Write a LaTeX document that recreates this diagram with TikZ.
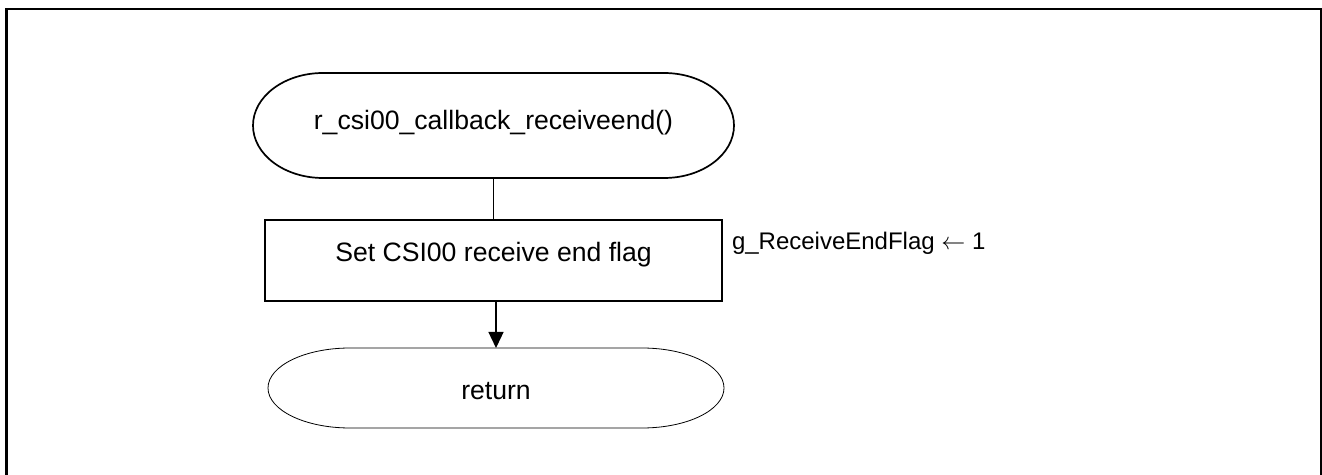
\documentclass[tikz,border=0pt]{standalone}
\usepackage{fontspec}
\setmainfont{Liberation Sans}
\usetikzlibrary{arrows.meta}

\begin{document}
\begin{tikzpicture}[x=0.5pt, y=-0.5pt,
  every node/.style={inner sep=0pt, outer sep=0pt, font=\fontsize{13.3pt}{16pt}\selectfont},
  terminal/.style={rectangle, align=center},
  process/.style={rectangle, draw, line width=0.65pt, align=center},
  conn/.style={line width=0.65pt}]
  \useasboundingbox (0,0) rectangle (1322,475);
  \draw[line width=1.25pt] (6.7,480) -- (6.7,9) -- (1321,9) -- (1321,480);
  \node[terminal, minimum width=240.5pt, minimum height=52.5pt, text height=9.5pt, text depth=5.7pt] (start) at (493.5,125.5) {r\_csi00\_callback\_receiveend()};
  \node[process, minimum width=228.5pt, minimum height=40.5pt, text height=9.5pt, text depth=8.3pt] (task) at (493.5,260.5) {Set CSI00 receive end flag};
  \node[terminal, minimum width=228pt, minimum height=40pt, text height=11.3pt, text depth=0pt] (done) at (496,388) {return};
  \node[anchor=base west, font=\fontsize{12pt}{14pt}\selectfont] (flag) at (732,250) {g\_ReceiveEndFlag $\leftarrow$ 1};
  % terminal outlines
  \draw[line width=0.85pt] ([xshift=35pt]start.north west) -- ([xshift=-35pt]start.north east)
    arc[start angle=90, end angle=-90, x radius=35pt, y radius=26.25pt] -- ([xshift=35pt]start.south west)
    arc[start angle=270, end angle=90, x radius=35pt, y radius=26.25pt] -- cycle;
  \draw[line width=0.4pt] ([xshift=41pt]done.north west) -- ([xshift=-41pt]done.north east)
    arc[start angle=90, end angle=-90, x radius=41pt, y radius=20pt] -- ([xshift=41pt]done.south west)
    arc[start angle=270, end angle=90, x radius=41pt, y radius=20pt] -- cycle;
  \draw[conn] (start.south) -- (task.north);
  \draw[conn, -{Triangle[width=7.5pt, length=8pt]}] (task.south -| done.north) -- (done.north);
\end{tikzpicture}
\end{document}
